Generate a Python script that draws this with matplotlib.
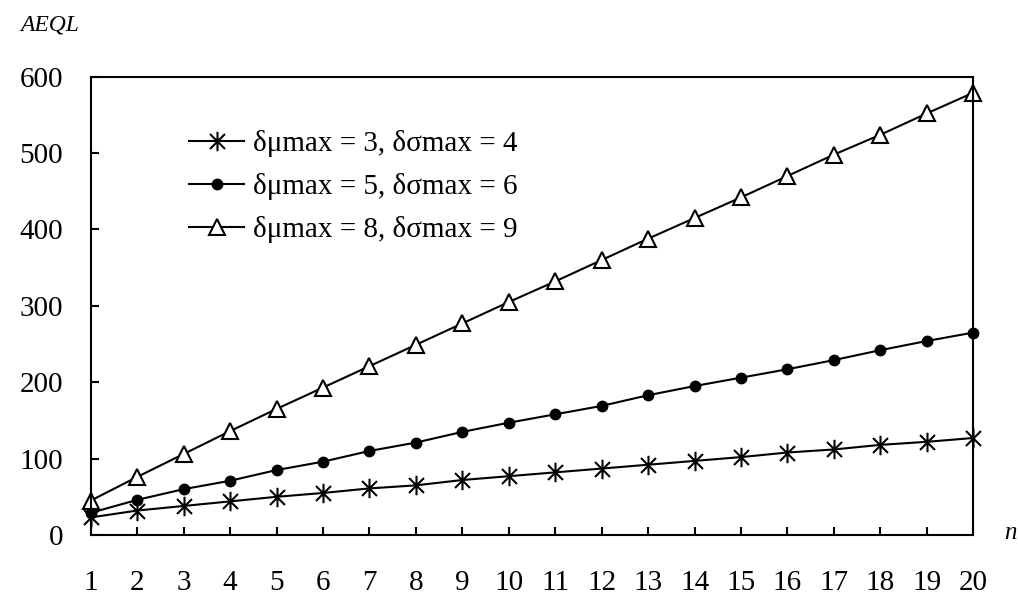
import numpy as np
import matplotlib.pyplot as plt
from matplotlib.path import Path

n = list(range(1, 21))

labels = ["δμmax = 3, δσmax = 4", "δμmax = 5, δσmax = 6", "δμmax = 8, δσmax = 9"]

aeql_3_4 = [23, 32, 38, 44, 50, 55, 61, 65, 72, 77, 82, 87, 92, 97, 102, 108, 112, 118, 122, 127]
aeql_5_6 = [29, 46, 60, 71, 85, 96, 110, 121, 135, 147, 158, 169, 183, 195, 206, 217, 229, 242, 254, 265]
aeql_8_9 = [45, 76, 106, 136, 165, 193, 221, 249, 277, 305, 332, 360, 388, 415, 442, 470, 498, 524, 552, 579]

yticks = [0, 100, 200, 300, 400, 500, 600]

plt.rcParams['font.family'] = ['Liberation Serif', 'DejaVu Serif']

# excel style asterisk: an X with a vertical bar through it
star = Path([(-1, -1), (1, 1), (-1, 1), (1, -1), (0, -1.3), (0, 1.3)],
            [Path.MOVETO, Path.LINETO, Path.MOVETO, Path.LINETO, Path.MOVETO, Path.LINETO])

W, H = 1018, 594
fig = plt.figure(figsize=(W / 100, H / 100), dpi=100)
ax = fig.add_axes([90.7 / W, 1 - 535 / H, (973.3 - 90.7) / W, (535 - 76.7) / H])

lw = 1.5
ax.plot(n, aeql_3_4, color='black', lw=lw, marker=star, ms=14, mfc='none', mec='black', mew=1.5,
        label=labels[0], clip_on=False)
ax.plot(n, aeql_5_6, color='black', lw=lw, marker='o', ms=7.5, mfc='black', mec='black',
        label=labels[1], clip_on=False)
ax.plot(n, aeql_8_9, color='black', lw=lw, marker='^', ms=11, mfc='white', mec='black', mew=1.5,
        label=labels[2], clip_on=False)

ax.set_xlim(1, 20)
ax.set_ylim(0, 600)
ax.set_xticks(n)
ax.set_yticks(yticks)
ax.tick_params(axis='x', direction='in', length=6, width=1.5, pad=25, labelsize=21)
ax.tick_params(axis='y', direction='in', length=6, width=1.5, pad=20, labelsize=21)
for s in ax.spines.values():
    s.set_linewidth(1.5)

fig.text(50 / W, 1 - 25 / H, "AEQL", ha='center', va='center', style='italic', fontsize=17)
fig.text(1010 / W, 1 - 533 / H, "n", ha='center', va='center', style='italic', fontsize=18)

leg = ax.legend(loc='upper left', bbox_to_anchor=(189 / W, 1 - 130 / H), bbox_transform=fig.transFigure,
                frameon=False, fontsize=21, handlelength=1.9, handletextpad=0.3,
                labelspacing=0.55, borderpad=0, borderaxespad=0)

fig.savefig('out.png', dpi=100)
